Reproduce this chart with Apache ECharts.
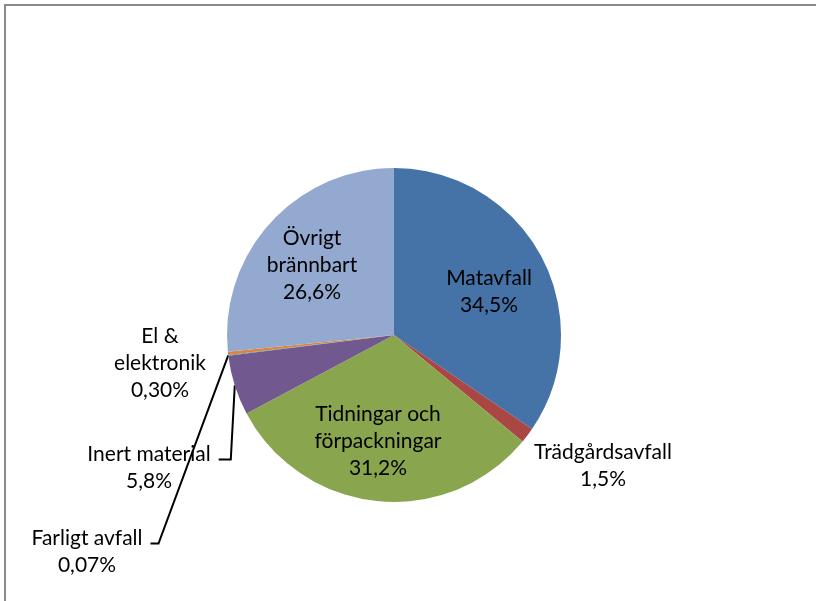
<!DOCTYPE html>
<html>
<head>
<meta charset="utf-8">
<script src="https://cdn.jsdelivr.net/npm/echarts@6/dist/echarts.min.js"></script>
<style>
  html, body { margin: 0; padding: 0; background: #fff; overflow: hidden; }
  .frame {
    position: absolute; left: 4px; top: 4px; width: 900px; height: 700px;
    border: 2px solid #8a8a8a; box-sizing: border-box;
  }
  #chart { position: absolute; left: 0; top: 0; width: 816px; height: 601px; }
</style>
</head>
<body>
<div class="frame"></div>
<div id="chart"></div>
<script>
// andelar i procent, medurs från kl 12
const categories = ['Matavfall', 'Trädgårdsavfall', 'Tidningar och förpackningar', 'Inert material', 'Farligt avfall', 'El & elektronik', 'Övrigt brännbart'];
const values = [34.5, 1.5, 31.2, 5.8, 0.07, 0.30, 26.6];
const valueLabels = ['34,5%', '1,5%', '31,2%', '5,8%', '0,07%', '0,30%', '26,6%'];
const labelNames = ['Matavfall', 'Trädgårdsavfall', 'Tidningar och\nförpackningar', 'Inert material', 'Farligt avfall', 'El &\nelektronik', 'Övrigt\nbrännbart'];
const colors = ['#4572A7', '#AA4643', '#89A54E', '#71588F', '#4198AF', '#DB843D', '#93A9CF'];

// etikettplacering (mitten av textblocket)
const labelPos = [[489, 292], [603, 466], [378, 441], [149, 468], [87, 552], [160, 363], [312, 265]];
const inside = [true, false, true, false, false, false, true];
const leader = [false, false, false, true, true, false, false];

const chart = echarts.init(document.getElementById('chart'));

const data = values.map(function (v, i) {
  return {
    value: v,
    name: categories[i],
    itemStyle: { color: colors[i] },
    label: { position: inside[i] ? 'inside' : 'outside' },
    labelLine: { show: leader[i] }
  };
});

const option = {
  animation: false,
  series: [{
    type: 'pie',
    center: [394, 335],
    radius: 167,
    startAngle: 90,
    clockwise: true,
    avoidLabelOverlap: false,
    data: data,
    label: {
      show: true,
      formatter: function (p) {
        return labelNames[p.dataIndex] + '\n' + valueLabels[p.dataIndex];
      },
      fontFamily: 'Lato',
      fontSize: 21,
      lineHeight: 27,
      color: '#000',
      align: 'center'
    },
    labelLine: {
      lineStyle: { color: '#000', width: 2 }
    },
    labelLayout: function (params) {
      const i = params.dataIndex;
      const pos = labelPos[i];
      const res = { x: pos[0], y: pos[1], align: 'center', verticalAlign: 'middle' };
      if (leader[i] && params.labelLinePoints) {
        const w = params.labelRect.width;
        const h = params.labelRect.height;
        const right = pos[0] + w / 2;
        const tickY = pos[1] - h / 2 + 27 / 2 + 5;
        const anchor = params.labelLinePoints[0];
        const bendX = i === 3 ? anchor[0] - 4 : right + 16;
        res.labelLinePoints = [anchor, [bendX, tickY], [right + 8, tickY]];
      }
      return res;
    },
    emphasis: { disabled: true }
  }]
};

chart.setOption(option);
</script>
</body>
</html>
